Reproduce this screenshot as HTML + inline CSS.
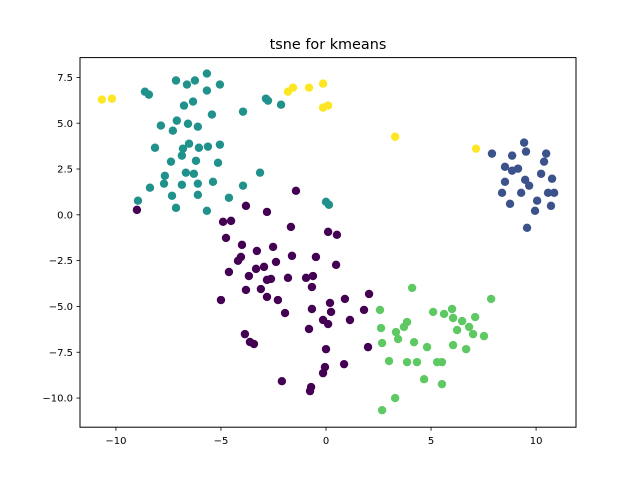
<!DOCTYPE html>
<html><head><meta charset="utf-8"><style>
html,body{margin:0;padding:0;background:#fff;}
svg{display:block;font-family:"DejaVu Sans","Liberation Sans",sans-serif;}
</style></head><body>
<svg id="chart" width="640" height="480" viewBox="0 0 640 480" xmlns="http://www.w3.org/2000/svg">
<rect width="640" height="480" fill="#fff"/>
<text x="328" y="49" font-size="14.4" text-anchor="middle" fill="#000">tsne for kmeans</text>
<g id="points"></g>
<rect x="80" y="57.6" width="496" height="369.6" fill="none" stroke="#000" stroke-width="1"/>
<g id="xticks"></g>
<g id="yticks"></g>
</svg>
<script>
const xTicks=[-10,-5,0,5,10];
const yTicks=[-10,-7.5,-5,-2.5,0,2.5,5,7.5];
const yellowX=[-10.67,-10.19,-1.81,-1.57,-0.81,-0.14,-0.14,0.10,3.29,7.14];
const yellowY=[6.29,6.34,6.72,6.94,6.94,7.16,5.85,5.96,4.26,3.61];
const tealX=[-8.62,-8.43,-7.14,-6.62,-6.24,-5.67,-5.05,-5.67,-6.33,-6.76,-2.86,-2.76,-2.14,-3.95,-5.43,-7.86,-7.10,-6.57,-6.10,-7.29,-8.14,-6.81,-6.52,-6.05,-5.62,-5.05,-6.86,-7.38,-6.19,-5.14,-6.67,-6.29,-7.67,-7.71,-6.86,-6.10,-5.38,-3.14,-8.38,-3.95,-7.33,-6.10,-4.62,-8.95,-7.14,-5.67,0.00,0.14];
const tealY=[6.72,6.56,7.33,7.11,7.33,7.71,7.11,6.78,6.18,5.96,6.34,6.23,6.01,5.63,5.47,4.87,5.14,4.97,4.81,4.59,3.66,3.61,3.88,3.66,3.72,3.83,3.23,2.90,2.95,2.84,2.30,2.24,2.13,1.70,1.64,1.70,1.80,2.30,1.48,1.59,1.04,1.09,0.93,0.77,0.38,0.22,0.71,0.55];
const purpleX=[-9.00,-3.81,-2.81,-1.43,-4.90,-4.52,-1.67,0.10,0.52,-4.76,-4.00,-3.29,-2.52,-1.62,-0.48,0.48,-4.05,-4.19,-4.62,-3.67,-3.33,-2.95,-2.38,-2.81,-2.62,-1.81,-0.95,-0.62,-0.67,-3.81,-3.10,-2.81,-2.29,-5.00,-1.95,-0.67,0.19,0.24,0.90,2.05,1.81,1.14,-0.14,0.10,-0.81,-3.86,-3.62,-3.43,0.00,2.00,0.86,-0.05,-0.14,-2.10,-0.71,-0.76];
const purpleY=[0.27,0.49,0.16,1.31,-0.38,-0.33,-0.66,-0.93,-1.09,-1.26,-1.64,-1.97,-1.75,-2.24,-2.30,-2.73,-2.30,-2.51,-3.12,-3.34,-2.95,-2.84,-2.57,-3.55,-3.50,-3.44,-3.44,-3.34,-3.94,-4.10,-4.05,-4.48,-4.65,-4.65,-5.36,-5.14,-4.81,-5.30,-4.59,-4.32,-5.19,-5.74,-5.74,-5.96,-6.23,-6.51,-6.94,-7.05,-7.33,-7.22,-8.15,-8.31,-8.64,-9.08,-9.40,-9.62];
const greenX=[2.57,2.62,3.33,3.43,2.67,3.00,3.29,2.67,4.10,7.86,5.10,5.62,6.00,6.05,6.48,7.10,6.81,7.00,7.52,6.24,3.86,3.71,4.19,4.81,6.05,6.67,3.86,4.33,5.29,5.52,4.67,5.52];
const greenY=[-5.19,-6.18,-6.40,-6.78,-7.00,-7.98,-10.00,-10.66,-3.99,-4.59,-5.30,-5.41,-5.14,-5.63,-5.80,-5.58,-6.12,-6.51,-6.62,-6.29,-5.85,-6.12,-6.95,-7.22,-7.11,-7.33,-8.04,-8.04,-8.04,-8.04,-8.97,-9.24];
const blueX=[7.90,8.86,9.43,9.52,10.48,10.38,8.52,8.86,9.14,10.24,10.76,8.52,9.48,9.67,8.38,9.29,10.57,10.86,8.76,10.05,10.71,9.95,9.57];
const blueY=[3.34,3.23,3.94,3.45,3.34,2.90,2.62,2.41,2.52,2.24,1.97,1.80,1.91,1.59,1.20,1.20,1.20,1.20,0.60,0.77,0.49,0.22,-0.71];

const NS='http://www.w3.org/2000/svg';
const X0=80,X1=576,Y0=57.6,Y1=427.2;
const xMin=-11.71,xMax=11.90,yMin=-11.59,yMax=8.58;
function sx(v){return X0+(v-xMin)/(xMax-xMin)*(X1-X0);}
function sy(v){return Y1-(v-yMin)/(yMax-yMin)*(Y1-Y0);}
function mk(t,a){const e=document.createElementNS(NS,t);for(const k in a)e.setAttribute(k,a[k]);return e;}

const pg=document.getElementById('points');
const groups=[
 ['purple',purpleX,purpleY,'#440154'],
 ['teal',tealX,tealY,'#21918c'],
 ['blue',blueX,blueY,'#3b528b'],
 ['green',greenX,greenY,'#5ec962'],
 ['yellow',yellowX,yellowY,'#fde725']
];
groups.forEach(g=>{
 const xs=g[1],ys=g[2];
 for(let i=0;i<xs.length;i++){
  const c=mk('circle',{cx:sx(xs[i]),cy:sy(ys[i]),r:4.2,fill:g[3]});
  
  
  pg.appendChild(c);
 }
});

const xg=document.getElementById('xticks');
xTicks.forEach(t=>{
 const x=sx(t);
 const l=mk('line',{x1:x,x2:x,y1:Y1,y2:Y1+3.5,stroke:'#000','stroke-width':0.8});
 
 
 xg.appendChild(l);
 const tx=mk('text',{x:x,y:Y1+17,'font-size':10,'text-anchor':'middle',fill:'#000'});
 
 
 tx.textContent=(t<0?'\u2212'+Math.abs(t):String(t));
 xg.appendChild(tx);
});
const yg=document.getElementById('yticks');
yTicks.forEach(t=>{
 const y=sy(t);
 const l=mk('line',{x1:X0-3.5,x2:X0,y1:y,y2:y,stroke:'#000','stroke-width':0.8});
 
 
 yg.appendChild(l);
 const tx=mk('text',{x:X0-7,y:y+3.6,'font-size':10,'text-anchor':'end',fill:'#000'});
 
 
 tx.textContent=(t<0?'\u2212':'')+Math.abs(t).toFixed(1);
 yg.appendChild(tx);
});
</script>
</body></html>
